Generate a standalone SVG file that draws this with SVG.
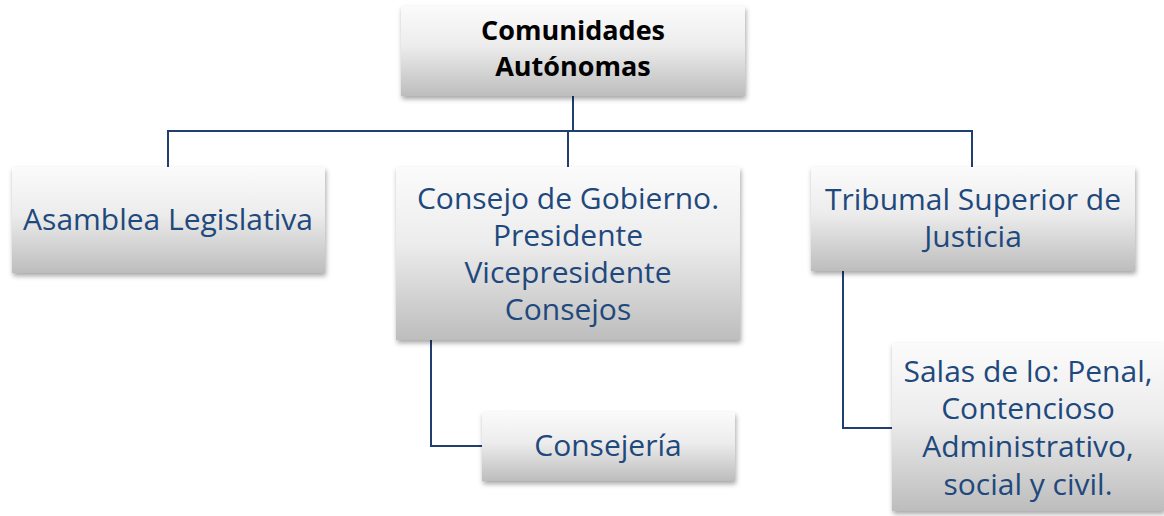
<svg xmlns="http://www.w3.org/2000/svg" width="1164" height="516" viewBox="0 0 1164 516">
<defs>
<linearGradient id="g" x1="0" y1="0" x2="0" y2="1">
<stop offset="0" stop-color="#fbfbfb"/>
<stop offset="0.45" stop-color="#ececec"/>
<stop offset="1" stop-color="#bdbdbd"/>
</linearGradient>
<filter id="sh" x="-10%" y="-10%" width="125%" height="130%">
<feDropShadow dx="1" dy="3" stdDeviation="2.5" flood-color="#000" flood-opacity="0.35"/>
</filter>
</defs>
<style>
.box{fill:url(#g);filter:url(#sh);}
.t{font-family:"Open Sans","Noto Sans",sans-serif;font-size:30px;fill:#1f497d;text-anchor:middle;}
.h{font-family:"Open Sans","Noto Sans",sans-serif;font-size:27px;font-weight:bold;fill:#000;text-anchor:middle;}
.c{fill:none;stroke:#1f3f6f;stroke-width:2;}
</style>
<rect width="1164" height="516" fill="#fff"/>
<g id="connectors">
<path class="c" d="M573 96V131"/>
<path class="c" d="M168 167V131H972V167"/>
<path class="c" d="M568 131V167"/>
<path class="c" d="M431 340V446H482"/>
<path class="c" d="M843 271V428H892"/>
</g>
<g id="n-comunidades">
<rect class="box" x="401" y="6" width="344" height="90"/>
<text class="h" x="573" y="40">Comunidades</text>
<text class="h" x="573" y="76">Autónomas</text>
</g>
<g id="n-asamblea">
<rect class="box" x="12" y="167" width="313" height="106"/>
<text class="t" x="168" y="230">Asamblea Legislativa</text>
</g>
<g id="n-consejo">
<rect class="box" x="396" y="167" width="344" height="173"/>
<text class="t" x="568" y="209">Consejo de Gobierno.</text>
<text class="t" x="568" y="246">Presidente</text>
<text class="t" x="568" y="283">Vicepresidente</text>
<text class="t" x="568" y="320">Consejos</text>
</g>
<g id="n-tribunal">
<rect class="box" x="811" y="167" width="324" height="104"/>
<text class="t" x="973" y="210">Tribumal Superior de</text>
<text class="t" x="973" y="247">Justicia</text>
</g>
<g id="n-consejeria">
<rect class="box" x="482" y="412" width="253" height="69"/>
<text class="t" x="608" y="456">Consejería</text>
</g>
<g id="n-salas">
<rect class="box" x="892" y="343" width="272" height="168"/>
<text class="t" x="1028" y="382">Salas de lo: Penal,</text>
<text class="t" x="1028" y="419">Contencioso</text>
<text class="t" x="1028" y="457">Administrativo,</text>
<text class="t" x="1028" y="495">social y civil.</text>
</g>
</svg>
